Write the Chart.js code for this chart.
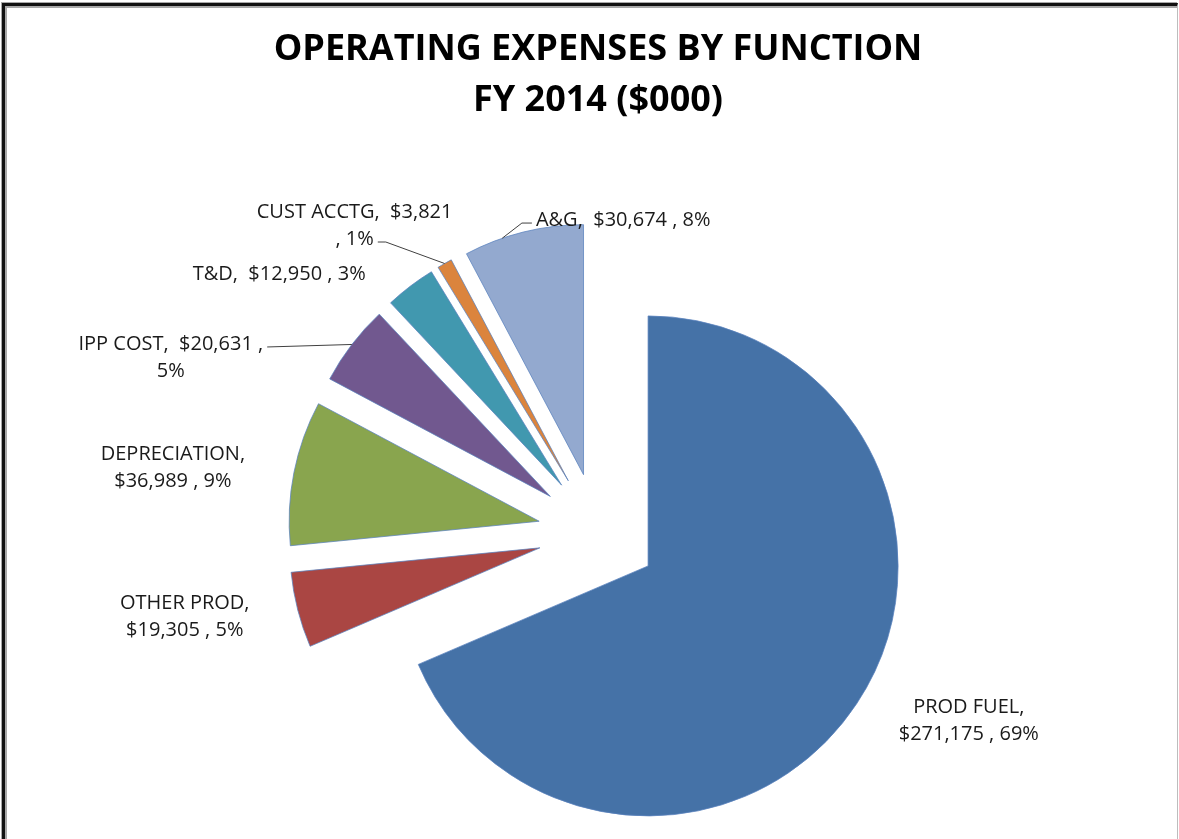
<!DOCTYPE html>
<html>
<head>
<meta charset="utf-8">
<title>Operating Expenses by Function FY 2014</title>
<script src="https://cdn.jsdelivr.net/npm/chart.js@4.4.0/dist/chart.umd.min.js"></script>
<style>
  html, body { margin: 0; padding: 0; background: #fff; }
  #wrap { position: relative; width: 1179px; height: 839px; overflow: hidden; }
  #chart { position: absolute; left: 0; top: 0; }
  #frame {
    position: absolute; left: 2px; top: 3px; right: 1px; bottom: -20px;
    border-left: 3px solid #111; border-top: 3px solid #111; border-right: 1px solid #bdbdbd;
    box-shadow: inset 2px 2px 0 #a8a8a8, -1px -1px 0 #a8a8a8;
    pointer-events: none;
  }
</style>
</head>
<body>
<div id="wrap">
  <canvas id="chart" width="1179" height="839"></canvas>
  <div id="frame"></div>
</div>
<script>
const categories = ["PROD FUEL", "OTHER PROD", "DEPRECIATION", "IPP COST", "T&D", "CUST ACCTG", "A&G"];
const expenses = [271175, 19305, 36989, 20631, 12950, 3821, 30674];
const sliceColors = ["#4572A7", "#AA4643", "#89A54E", "#71588F", "#4198AF", "#DB843D", "#93A9CF"];
const titleLines = ["OPERATING EXPENSES BY FUNCTION", "FY 2014 ($000)"];

// where each label sits relative to the outer middle of its slice, and how it wraps
const labelLayout = [
  { dx: 112, dy: 17, wrap: "name" },
  { dx: -113, dy: 7, wrap: "name" },
  { dx: -121, dy: -5, wrap: "name" },
  { dx: -181, dy: 13, wrap: "pct", leader: { line: 0, t: 0.5, elbow: 0 } },
  { dx: -131, dy: -12, wrap: "none" },
  { dx: -90, dy: -38, wrap: "comma", leader: { line: 1, t: 0.5, elbow: 8 } },
  { dx: 100, dy: -12, wrap: "none", leader: { line: 0, t: 0.32, elbow: 10 } },
];

const LINE_GAP = 27;
const EXPLODE = 60;

function labelLines(i, total) {
  const name = categories[i] + ",";
  const money = "$" + expenses[i].toLocaleString("en-US");
  const pct = Math.round(expenses[i] / total * 100) + "%";
  const wrap = labelLayout[i].wrap;
  if (wrap === "name") return [name, money + " , " + pct];
  if (wrap === "pct") return [name + "  " + money + " ,", pct];
  if (wrap === "comma") return [name + "  " + money, ", " + pct];
  return [name + "  " + money + " , " + pct];
}

// push every slice out from the centre along its middle angle (Excel style explosion)
const explodePlugin = {
  id: "explode",
  beforeDatasetsDraw(chart) {
    const a = chart.chartArea;
    const cx = (a.left + a.right) / 2;
    const cy = (a.top + a.bottom) / 2;
    chart.getDatasetMeta(0).data.forEach((arc) => {
      const mid = (arc.startAngle + arc.endAngle) / 2;
      arc.x = cx + Math.cos(mid) * EXPLODE;
      arc.y = cy + Math.sin(mid) * EXPLODE;
    });
  },
};

const labelPlugin = {
  id: "sliceLabels",
  afterDatasetsDraw(chart) {
    const ctx = chart.ctx;
    const total = expenses.reduce((s, v) => s + v, 0);
    ctx.save();
    ctx.font = "20px 'Open Sans'";
    ctx.fillStyle = "#1a1a1a";
    ctx.strokeStyle = "#404040";
    ctx.lineWidth = 1;
    ctx.textAlign = "center";
    ctx.textBaseline = "middle";
    chart.getDatasetMeta(0).data.forEach((arc, i) => {
      const R = arc.outerRadius;
      const mid = (arc.startAngle + arc.endAngle) / 2;
      const mx = arc.x + Math.cos(mid) * R;
      const my = arc.y + Math.sin(mid) * R;
      const lay = labelLayout[i];
      const lines = labelLines(i, total);
      const bx = mx + lay.dx;
      const by = my + lay.dy;
      const y0 = by - (lines.length - 1) * LINE_GAP / 2;
      lines.forEach((t, k) => ctx.fillText(t, bx, y0 + k * LINE_GAP));

      if (lay.leader) {
        const ld = lay.leader;
        const side = lay.dx < 0 ? 1 : -1;
        const w = ctx.measureText(lines[ld.line]).width;
        const px = bx + side * (w / 2 + 4);
        const py = y0 + ld.line * LINE_GAP + 3;
        const ang = arc.startAngle + ld.t * (arc.endAngle - arc.startAngle);
        ctx.beginPath();
        ctx.moveTo(px, py);
        ctx.lineTo(px + side * ld.elbow, py);
        ctx.lineTo(arc.x + Math.cos(ang) * R, arc.y + Math.sin(ang) * R);
        ctx.stroke();
      }
    });
    ctx.restore();
  },
};

new Chart(document.getElementById("chart"), {
  type: "pie",
  data: {
    labels: categories,
    datasets: [
      {
        data: expenses,
        backgroundColor: sliceColors,
        borderColor: "rgba(90,130,190,0.75)",
        borderWidth: 1,
        radius: 250,
      },
    ],
  },
  options: {
    responsive: false,
    animation: false,
    layout: { padding: { left: 17, right: 0, top: 0, bottom: 0 } },
    plugins: {
      legend: { display: false },
      tooltip: { enabled: false },
      title: {
        display: true,
        text: titleLines,
        color: "#000",
        font: { family: "'Open Sans'", size: 36, weight: "bold", lineHeight: 1.4 },
        padding: { top: 25, bottom: 101 },
      },
    },
  },
  plugins: [explodePlugin, labelPlugin],
});
</script>
</body>
</html>
